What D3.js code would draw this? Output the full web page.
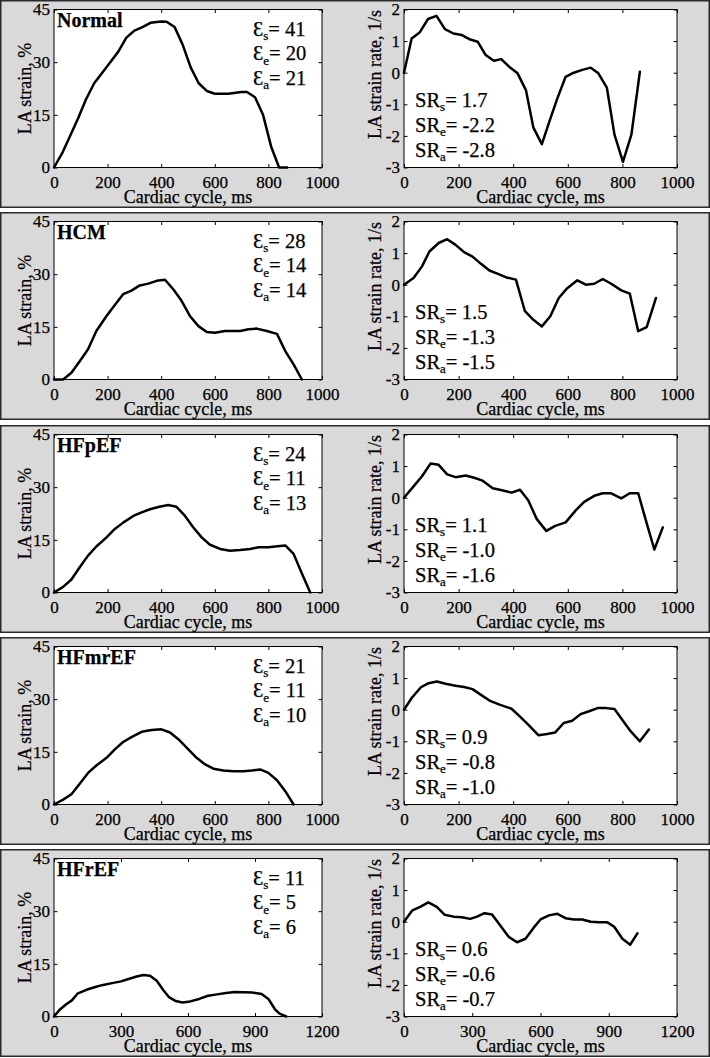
<!DOCTYPE html>
<html><head><meta charset="utf-8">
<script src="https://cdn.jsdelivr.net/npm/d3@7"></script>
<style>
body{margin:0;background:#fff}
svg{display:block}
text{font-family:"Liberation Serif","Times New Roman",serif;fill:#000;stroke:#000;stroke-width:0.25px}
</style>
</head><body><svg id="c" width="710" height="1058"></svg>
<script>
// ---------- data ----------
const groups = ["Normal", "HCM", "HFpEF", "HFmrEF", "HFrEF"];
const epsS = [41, 28, 24, 21, 11];
const epsE = [20, 14, 11, 11, 5];
const epsA = [21, 14, 13, 10, 6];
const srS = ["1.7", "1.5", "1.1", "0.9", "0.6"];
const srE = ["-2.2", "-1.3", "-1.0", "-0.8", "-0.6"];
const srA = ["-2.8", "-1.5", "-1.6", "-1.0", "-0.7"];
const xMax = [1000, 1000, 1000, 1000, 1200];
const xTicks1000 = [0, 200, 400, 600, 800, 1000];
const xTicks1200 = [0, 300, 600, 900, 1200];
const strainTicks = [0, 15, 30, 45];
const srTicks = [-3, -2, -1, 0, 1, 2];

const normalStrainMs = [0,30,60,90,120,150,200,240,270,300,330,360,400,420,450,480,510,540,570,600,650,700,720,750,780,810,840,870];
const normalStrain   = [0,4,9,14,19.5,24,29,33,37,39,40,41.2,41.6,41.5,40,35,28.5,24,21.8,21,21,21.5,21.5,20,15,6,0,0];
const normalSRMs = [0,28,57,88,119,150,181,212,243,270,298,329,356,385,416,447,474,505,533,561,592,622,653,684,712,743,771,802,833,864];
const normalSR   = [0,1.08,1.27,1.7,1.8,1.38,1.24,1.19,1.05,0.98,0.57,0.38,0.43,0.19,-0.02,-0.56,-1.74,-2.26,-1.53,-0.83,-0.13,0,0.09,0.16,-0.02,-0.47,-1.96,-2.82,-1.96,0.03];

const hcmStrainMs = [0,34,65,96,127,158,196,227,258,289,320,352,383,414,445,476,507,539,570,601,638,695,726,757,794,832,863,894,925];
const hcmStrain   = [0,0,1.9,5.2,8.6,13.8,18.1,21.2,24.3,25.3,26.8,27.3,28.1,28.4,25.7,22.4,18.1,15.2,13.5,13.3,13.8,13.8,14.3,14.5,13.8,13,8.1,4.3,0];
const hcmSRMs = [0,35,66,93,127,158,189,220,251,282,313,344,375,410,443,474,505,536,567,598,635,666,697,728,759,796,827,858,889,923];
const hcmSR   = [0,0.21,0.58,1.05,1.32,1.44,1.26,1.03,0.89,0.66,0.45,0.34,0.23,0.16,-0.84,-1.11,-1.32,-1,-0.42,-0.11,0.14,0,0.03,0.18,0.03,-0.18,-0.28,-1.47,-1.34,-0.42];

const hfpefStrainMs = [0,34,65,96,127,158,196,227,258,296,327,358,393,426,457,489,520,551,582,620,657,694,732,763,800,834,863,894,925,956];
const hfpefStrain   = [0,1.6,3.7,7.2,10.5,13.1,15.7,18.1,19.9,21.8,22.8,23.7,24.4,24.9,24.4,21.8,18.5,15.7,13.6,12.4,11.9,12.1,12.4,12.9,12.9,13.2,13.4,11,5.4,0];
const hfpefSRMs = [0,35,66,97,127,158,189,226,257,288,325,363,394,425,455,486,521,554,592,629,660,697,728,759,796,827,858,886,917,948];
const hfpefSR   = [0,0.36,0.68,1.08,1.04,0.74,0.65,0.70,0.63,0.54,0.30,0.23,0.16,0.25,-0.08,-0.67,-1.05,-0.89,-0.78,-0.40,-0.13,0.06,0.14,0.14,-0.02,0.14,0.14,-0.72,-1.64,-0.94];

const hfmrefStrainMs = [0,34,65,96,127,158,196,227,258,289,327,364,401,433,464,495,532,564,595,632,670,707,738,769,800,832,863,894];
const hfmrefStrain   = [0,1.4,2.9,5.9,9.0,11.1,13.3,15.7,17.8,19.2,20.7,21.2,21.4,20.5,18.6,16.2,13.3,11.4,10.2,9.7,9.5,9.5,9.7,10.0,9.0,6.9,3.8,0];
const hfmrefSRMs = [0,28,62,90,121,152,189,220,251,282,313,350,394,424,455,493,524,554,585,616,647,678,709,740,771,802,830,864,897];
const hfmrefSR   = [0,0.37,0.71,0.84,0.89,0.82,0.76,0.72,0.65,0.47,0.29,0.16,0.03,-0.21,-0.47,-0.81,-0.77,-0.72,-0.42,-0.35,-0.14,-0.05,0.05,0.05,0.02,-0.35,-0.68,-1.0,-0.63];

const hfrefStrainMs = [0,25,55,80,105,145,185,220,260,300,330,370,400,430,460,490,515,545,575,610,650,690,730,770,810,850,890,930,960,990,1010,1040];
const hfrefStrain   = [0,1.9,3.5,4.6,6.5,7.6,8.4,9.0,9.5,10.0,10.6,11.4,11.8,11.6,10.2,7.5,5.5,4.4,4.0,4.3,5.0,5.9,6.3,6.7,7.0,6.9,6.8,6.4,5.0,2.0,0.8,0];
const hfrefSRMs = [0,37,71,107,144,178,218,254,291,321,354,387,424,460,497,534,571,600,637,674,710,747,784,821,857,894,924,960,994,1026];
const hfrefSR   = [0,0.36,0.47,0.61,0.47,0.22,0.16,0.14,0.09,0.16,0.27,0.23,-0.13,-0.48,-0.65,-0.54,-0.18,0.07,0.20,0.25,0.11,0.07,0.07,0,-0.02,-0.02,-0.16,-0.54,-0.73,-0.37];

const strainMs = [normalStrainMs, hcmStrainMs, hfpefStrainMs, hfmrefStrainMs, hfrefStrainMs];
const strainVals = [normalStrain, hcmStrain, hfpefStrain, hfmrefStrain, hfrefStrain];
const srMs = [normalSRMs, hcmSRMs, hfpefSRMs, hfmrefSRMs, hfrefSRMs];
const srVals = [normalSR, hcmSR, hfpefSR, hfmrefSR, hfrefSR];

// ---------- layout ----------
const svg = d3.select("#c");
const rowPitch = 212.25, panelH = 206.5, plotTopOff = 9.5, plotH = 158;
const left = {x0: 54, x1: 322}, right = {x0: 404, x1: 677};
const tickFont = 17, titleFont = 18, annFont = 20.5, subFont = 13;

function drawAxes(g, x, y, xt, yt, w, h) {
  const tk = 3.5;
  g.append("rect").attr("x", 0).attr("y", 0).attr("width", w).attr("height", h)
    .attr("fill", "#fff");
  const ax = (gen, tr, labels) => {
    const a = g.append("g").attr("transform", tr).call(gen);
    a.select(".domain").remove();
    a.selectAll("line").attr("stroke", "#000").attr("stroke-width", 1);
    a.selectAll("text").style("font-size", tickFont + "px")
      .style("font-family", '"Liberation Serif","Times New Roman",serif').attr("fill", "#000");
    if (!labels) a.selectAll("text").remove();
    return a;
  };
  ax(d3.axisBottom(x).tickValues(xt).tickSizeInner(-tk).tickSizeOuter(0).tickPadding(8).tickFormat(d3.format("d")), `translate(0,${h})`, true);
  ax(d3.axisTop(x).tickValues(xt).tickSizeInner(-tk).tickSizeOuter(0), `translate(0,0)`, false);
  ax(d3.axisLeft(y).tickValues(yt).tickSizeInner(-tk).tickSizeOuter(0).tickPadding(4).tickFormat(d => String(d)), `translate(0,0)`, true);
  ax(d3.axisRight(y).tickValues(yt).tickSizeInner(-tk).tickSizeOuter(0), `translate(${w},0)`, false);
}

function annLine(g, x, y, main, sub, rest) {
  const t = g.append("text").attr("x", x).attr("y", y).style("font-size", annFont + "px");
  t.append("tspan").text(main);
  t.append("tspan").attr("dy", 4.5).style("font-size", subFont + "px").text(sub);
  t.append("tspan").attr("dy", -4.5).text(rest);
}

groups.forEach((name, i) => {
  const top = Math.round(i * rowPitch);
  svg.append("rect").attr("x", 0.75).attr("y", top + 0.75).attr("width", 708.5).attr("height", panelH)
    .attr("fill", "#d9d9d9").attr("stroke", "#2a2a2a").attr("stroke-width", 1.5);
  const pTop = top + plotTopOff;
  const xt = xMax[i] === 1200 ? xTicks1200 : xTicks1000;

  // ----- left: strain -----
  const wL = left.x1 - left.x0;
  const gL = svg.append("g").attr("transform", `translate(${left.x0},${pTop})`);
  const xL = d3.scaleLinear().domain([0, xMax[i]]).range([0, wL]);
  const yL = d3.scaleLinear().domain([0, 45]).range([plotH, 0]);
  drawAxes(gL, xL, yL, xt, strainTicks, wL, plotH);
  const dL = strainMs[i].map((m, k) => [m, strainVals[i][k]]);
  gL.append("path").datum(dL).attr("fill", "none").attr("stroke", "#000").attr("stroke-width", 2.5)
    .attr("stroke-linejoin", "round").attr("stroke-linecap", "round")
    .attr("d", d3.line().x(d => xL(d[0])).y(d => yL(d[1])));
  gL.append("rect").attr("width", wL).attr("height", plotH).attr("fill", "none").attr("stroke", "#000").attr("stroke-width", 1);
  gL.append("text").attr("x", 3).attr("y", 17.5).style("font-size", "20px").style("font-weight", "bold").text(name);
  annLine(gL, 199, 26, "Ɛ", "s", "= " + epsS[i]);
  annLine(gL, 199, 50.5, "Ɛ", "e", "= " + epsE[i]);
  annLine(gL, 199, 75, "Ɛ", "a", "= " + epsA[i]);
  gL.append("text").attr("x", wL / 2).attr("y", plotH + 35.5).attr("text-anchor", "middle")
    .style("font-size", titleFont + "px").text("Cardiac cycle, ms");
  gL.append("text").attr("transform", `translate(-23,${plotH / 2}) rotate(-90)`).attr("text-anchor", "middle")
    .style("font-size", titleFont + "px").text("LA strain, %");

  // ----- right: strain rate -----
  const wR = right.x1 - right.x0;
  const gR = svg.append("g").attr("transform", `translate(${right.x0},${pTop})`);
  const xR = d3.scaleLinear().domain([0, xMax[i]]).range([0, wR]);
  const yR = d3.scaleLinear().domain([-3, 2]).range([plotH, 0]);
  drawAxes(gR, xR, yR, xt, srTicks, wR, plotH);
  const dR = srMs[i].map((m, k) => [m, srVals[i][k]]);
  gR.append("path").datum(dR).attr("fill", "none").attr("stroke", "#000").attr("stroke-width", 2.5)
    .attr("stroke-linejoin", "round").attr("stroke-linecap", "round")
    .attr("d", d3.line().x(d => xR(d[0])).y(d => yR(d[1])));
  gR.append("rect").attr("width", wR).attr("height", plotH).attr("fill", "none").attr("stroke", "#000").attr("stroke-width", 1);
  annLine(gR, 11, 97, "SR", "s", "= " + srS[i]);
  annLine(gR, 11, 122, "SR", "e", "= " + srE[i]);
  annLine(gR, 11, 147, "SR", "a", "= " + srA[i]);
  gR.append("text").attr("x", wR / 2).attr("y", plotH + 35.5).attr("text-anchor", "middle")
    .style("font-size", titleFont + "px").text("Cardiac cycle, ms");
  gR.append("text").attr("transform", `translate(-23,${plotH / 2 - 14}) rotate(-90)`).attr("text-anchor", "middle")
    .style("font-size", titleFont + "px").text("LA strain rate, 1/s");
});
</script></body></html>
